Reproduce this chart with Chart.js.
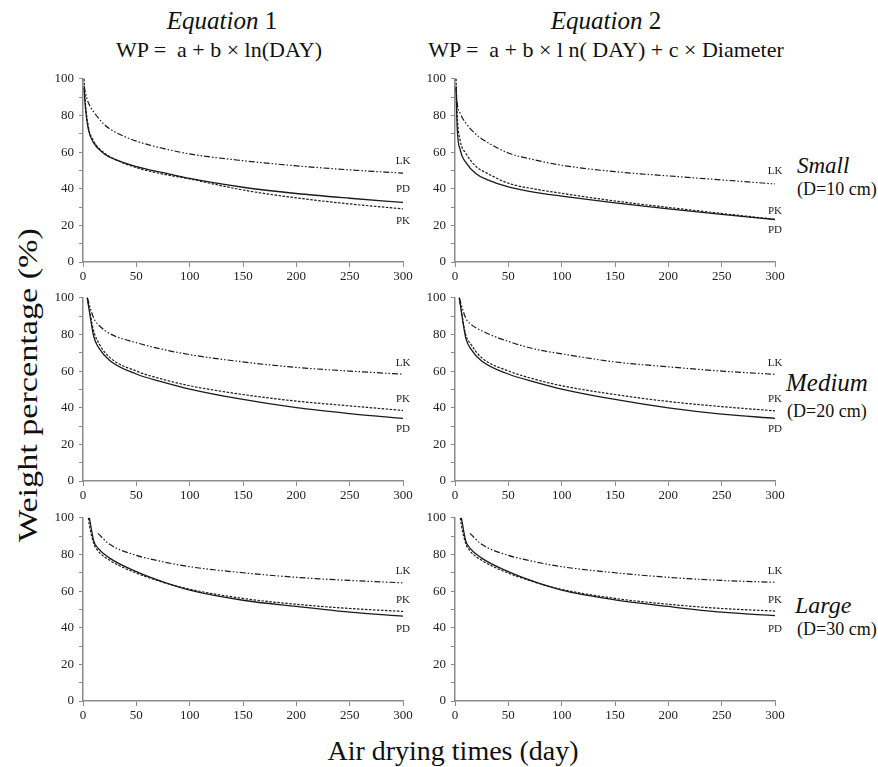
<!DOCTYPE html>
<html>
<head>
<meta charset="utf-8">
<script src="https://cdn.jsdelivr.net/npm/chart.js@4.4.1/dist/chart.umd.min.js"></script>
<style>
  body { margin: 0; background: #fff; }
  #page { position: relative; width: 878px; height: 767px; overflow: hidden; font-family: "Liberation Serif", Tinos, "DejaVu Serif", serif; color: #111; }
  #page canvas { position: absolute; }
  .txt { position: absolute; white-space: nowrap; line-height: 1.15; }
</style>
</head>
<body>
<div id="page">
  <div class="txt" style="left:122px; width:200px; text-align:center; top:7px; font-size:25px;"><i>Equation</i> 1</div>
  <div class="txt" style="left:69px; width:300px; text-align:center; top:37px; font-size:22px;">WP =&nbsp; a + b × ln(DAY)</div>
  <div class="txt" style="left:506px; width:200px; text-align:center; top:7px; font-size:25px;"><i>Equation</i> 2</div>
  <div class="txt" style="left:406px; width:400px; text-align:center; top:37px; font-size:22px;">WP =&nbsp; a + b × l n( DAY) + c × Diameter</div>

  <div class="txt" style="left:797px; top:153px; font-size:23px;"><i>Small</i></div>
  <div class="txt" style="left:797px; top:179px; font-size:18px;">(D=10 cm)</div>
  <div class="txt" style="left:786px; top:369px; font-size:25px;"><i>Medium</i></div>
  <div class="txt" style="left:787px; top:401px; font-size:18px;">(D=20 cm)</div>
  <div class="txt" style="left:795px; top:592px; font-size:24px;"><i>Large</i></div>
  <div class="txt" style="left:797px; top:619px; font-size:18px;">(D=30 cm)</div>

  <div class="txt" style="left:-172px; width:400px; text-align:center; top:369px; font-size:28px; transform:rotate(-90deg) scaleX(1.22);">Weight percentage (%)</div>
  <div class="txt" style="left:253px; width:400px; text-align:center; top:735px; font-size:28px;">Air drying times (day)</div>

  <canvas id="c11" width="383" height="226" style="left:40px; top:66px;"></canvas>
  <canvas id="c12" width="383" height="226" style="left:412px; top:66px;"></canvas>
  <canvas id="c21" width="383" height="226" style="left:40px; top:285px;"></canvas>
  <canvas id="c22" width="383" height="226" style="left:412px; top:285px;"></canvas>
  <canvas id="c31" width="383" height="226" style="left:40px; top:505px;"></canvas>
  <canvas id="c32" width="383" height="226" style="left:412px; top:505px;"></canvas>
</div>
<script>
const daysSmall = [1, 2, 5, 10, 20, 30, 50, 75, 100, 150, 200, 250, 300];
const daysMedium = [4, 10, 15, 25, 50, 75, 100, 150, 200, 250, 300];
const daysLarge = [5, 6, 10, 14, 25, 50, 75, 100, 150, 200, 250, 300];

// Small (D=10 cm)
const smallEq1LK = [96, 93, 87, 82, 75, 71, 66, 62, 59, 55.3, 52.5, 50.3, 48.5];
const smallEq1PD = [95, 86, 72.5, 65, 59, 56, 52, 48.8, 45.6, 40.8, 37.4, 34.8, 32.5];
const smallEq1PK = [100, 89, 74, 66, 59.5, 56, 51.5, 48, 45.3, 39.3, 35, 31.7, 29];
const smallEq2LK = [96, 87, 81, 76, 69.5, 65.5, 59.5, 55.7, 52.8, 49.3, 47, 44.8, 42.6];
const smallEq2PD = [95, 74, 61, 54.5, 48, 45, 41, 38, 36, 32.3, 29, 26, 23.2];
const smallEq2PK = [100, 81, 66, 59.5, 52, 48.5, 43, 39.8, 37.5, 33.3, 29.8, 26.5, 23.3];

// Medium (D=20 cm)
const mediumEq1LK = [100, 89, 85, 80.5, 75.5, 71.8, 69, 65, 62, 60, 58.3];
const mediumEq1PD = [100, 79, 72.5, 65.8, 58.4, 54, 50.2, 44.5, 40, 36.8, 34.2];
const mediumEq1PK = [100, 82, 75, 67.5, 60, 55.5, 52, 47.2, 43.6, 41, 38.5];
const mediumEq2LK = [100, 89, 85.5, 82, 76.2, 72, 69.4, 65, 62.3, 60, 58.2];
const mediumEq2PD = [100, 78.3, 72, 65.5, 58.4, 54, 50.2, 44.5, 39.9, 36.5, 34.2];
const mediumEq2PK = [100, 80, 74.5, 67.3, 60.1, 55.5, 52, 47.2, 43.4, 40.6, 38.3];

// Large (D=30 cm)
const largeEq1LK = [null, null, null, 91.5, 85.5, 79.5, 76, 73.3, 70, 67.5, 65.8, 64.5];
const largeEq1PD = [null, 100, 87.5, 83.5, 78, 70.6, 65, 60.5, 55, 51.6, 48.5, 46.3];
const largeEq1PK = [100, 96, 86, 82, 76.8, 69.8, 64.8, 61, 56, 52.8, 50.5, 48.9];
const largeEq2LK = [null, null, null, 91.5, 85.5, 79.5, 76, 73.3, 70, 67.5, 65.8, 64.8];
const largeEq2PD = [null, 100, 87.5, 83.5, 78, 70.6, 65, 60.5, 55.2, 51.6, 48.5, 46.6];
const largeEq2PK = [100, 96, 86, 82, 76.8, 69.8, 64.8, 60.9, 56, 52.8, 50.5, 49.1];

const xTicks = [0, 50, 100, 150, 200, 250, 300];
const yTicks = [0, 20, 40, 60, 80, 100];

// where the species tags sit (y value at day 300)
const tagsSmall1 = { LK: 55.2, PD: 39.8, PK: 22.2 };
const tagsSmall2 = { LK: 49.8, PK: 28, PD: 17.3 };
const tagsMedium = { LK: 64.4, PK: 44.5, PD: 28.1 };
const tagsLarge = { LK: 71, PK: 55.2, PD: 39.5 };

const serif = '"Liberation Serif", Tinos, "DejaVu Serif", serif';
Chart.defaults.font.family = serif;
Chart.defaults.color = '#222';

const ink = '#1a1a1a';
const axisGrey = '#8a8a8a';

const curveTags = {
  id: 'curveTags',
  afterDatasetsDraw(chart, args, opts) {
    const { ctx, scales: { x, y } } = chart;
    ctx.save();
    ctx.font = '11px ' + serif;
    ctx.fillStyle = '#222';
    ctx.textAlign = 'center';
    ctx.textBaseline = 'middle';
    Object.entries(opts.tags || {}).forEach(([name, v]) => {
      ctx.fillText(name, x.getPixelForValue(300), y.getPixelForValue(v));
    });
    ctx.restore();
  }
};

function series(days, values) {
  return days.map((d, i) => ({ x: d, y: values[i] }));
}

function makePanel(id, days, lk, pd, pk, tags) {
  const common = { pointRadius: 0, borderColor: ink, fill: false, cubicInterpolationMode: 'monotone', clip: 6 };
  new Chart(document.getElementById(id), {
    type: 'line',
    data: {
      datasets: [
        { ...common, label: 'LK', data: series(days, lk), borderWidth: 1.2, borderDash: [6, 2, 1.5, 2, 1.5, 2] },
        { ...common, label: 'PK', data: series(days, pk), borderWidth: 1.2, borderDash: [2.5, 1.5] },
        { ...common, label: 'PD', data: series(days, pd), borderWidth: 1.3 }
      ]
    },
    options: {
      responsive: false,
      animation: false,
      layout: { padding: { top: 8, right: 20, left: 0, bottom: 0 } },
      plugins: { legend: { display: false }, tooltip: { enabled: false }, curveTags: { tags } },
      scales: {
        x: {
          type: 'linear', min: 0, max: 300,
          afterFit: s => { s.height = 30; },
          afterBuildTicks: s => { s.ticks = xTicks.map(v => ({ value: v })); },
          ticks: { font: { size: 13 }, color: '#222', padding: 2, maxRotation: 0 },
          grid: { drawOnChartArea: false, drawTicks: true, tickLength: 5, color: axisGrey },
          border: { display: true, color: axisGrey, width: 1.5 }
        },
        y: {
          min: 0, max: 100,
          afterFit: s => { s.width = 43; },
          ticks: {
            stepSize: 10, autoSkip: false, font: { size: 13 }, color: '#222', padding: 5,
            callback: v => (yTicks.includes(v) ? v : '')
          },
          grid: { drawOnChartArea: false, drawTicks: true, tickLength: 4, color: axisGrey },
          border: { display: true, color: axisGrey, width: 1.5 }
        }
      }
    },
    plugins: [curveTags]
  });
}

makePanel('c11', daysSmall, smallEq1LK, smallEq1PD, smallEq1PK, tagsSmall1);
makePanel('c12', daysSmall, smallEq2LK, smallEq2PD, smallEq2PK, tagsSmall2);
makePanel('c21', daysMedium, mediumEq1LK, mediumEq1PD, mediumEq1PK, tagsMedium);
makePanel('c22', daysMedium, mediumEq2LK, mediumEq2PD, mediumEq2PK, tagsMedium);
makePanel('c31', daysLarge, largeEq1LK, largeEq1PD, largeEq1PK, tagsLarge);
makePanel('c32', daysLarge, largeEq2LK, largeEq2PD, largeEq2PK, tagsLarge);
</script>
</body>
</html>
